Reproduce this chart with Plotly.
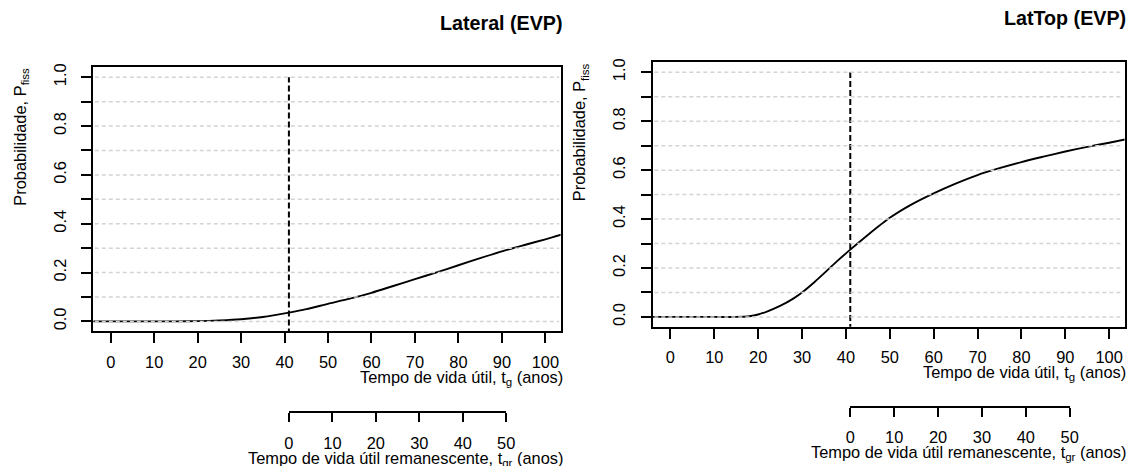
import plotly.graph_objects as go

# ---------------- data ----------------
tg_lateral = [-5, 0, 5, 10, 15, 20, 25, 30, 35, 41, 45, 50, 55, 60, 65, 70, 75, 80, 85, 90, 95, 100, 105]
p_lateral = [0, 0, 0, 0, 0, 0.001, 0.004, 0.009, 0.018, 0.036, 0.05, 0.072, 0.093, 0.117, 0.145,
             0.173, 0.201, 0.23, 0.259, 0.287, 0.312, 0.336, 0.362]

tg_lattop = [-5, 0, 5, 10, 15, 18, 20, 22, 25, 28, 30, 33, 35, 38, 41, 45, 50, 55, 60, 65, 70, 75,
             80, 85, 90, 95, 100, 105]
p_lattop = [0, 0, 0, 0, 0, 0.003, 0.01, 0.022, 0.045, 0.075, 0.1, 0.145, 0.178, 0.228, 0.275, 0.335,
            0.405, 0.46, 0.505, 0.545, 0.58, 0.608, 0.633, 0.655, 0.676, 0.695, 0.712, 0.73]

ref_year = 41                      # current age (dashed line, origin of remaining-life axis)
x_ticks = [0, 10, 20, 30, 40, 50, 60, 70, 80, 90, 100]
x2_ticks = [0, 10, 20, 30, 40, 50]
y_ticks = [0.0, 0.2, 0.4, 0.6, 0.8, 1.0]
y_minor = [0.1, 0.3, 0.5, 0.7, 0.9]
grid_vals = [0.0, 0.1, 0.2, 0.3, 0.4, 0.5, 0.6, 0.7, 0.8, 0.9, 1.0]

titles = ["Lateral (EVP)", "LatTop (EVP)"]
ylab = "Probabilidade, P<sub>fiss</sub>"
xlab = "Tempo de vida útil, t<sub>g</sub> (anos)"
x2lab = "Tempo de vida útil remanescente, t<sub>gr</sub> (anos)"

# ---------------- layout geometry ----------------
W, H = 1135, 466
FONT = "Liberation Sans, Arial, sans-serif"
FS = 16.4
XR = [-3.98, 103.5]
YR = [-0.04, 1.04]

panels = [
    dict(x0=89.5, x1=562.5, top=64, bot=330, sec=411.5, ylx=16, yly=134),
    dict(x0=656, x1=1133.5, top=59, bot=325.5, sec=406, ylx=582.5, yly=129),
]


def py(p):
    return 1 - p / H


def frac(t, dom, rng):
    return dom[0] + (t - rng[0]) / (rng[1] - rng[0]) * (dom[1] - dom[0])


fig = go.Figure()
series = [(tg_lateral, p_lateral), (tg_lattop, p_lattop)]
layout = dict(width=W, height=H, autosize=False, margin=dict(l=0, r=0, t=0, b=0),
              paper_bgcolor="white", plot_bgcolor="rgba(0,0,0,0)", showlegend=False,
              font=dict(family=FONT, size=FS, color="black"))
shapes = []
annotations = []

for i, (pn, (xs, ys)) in enumerate(zip(panels, series)):
    n = i + 1
    xa = "x" if n == 1 else f"x{n}"
    ya = "y" if n == 1 else f"y{n}"
    sa = f"x{n + 2}"
    xdom = [pn["x0"] / W, pn["x1"] / W]
    ydom = [py(pn["bot"]), py(pn["top"])]
    xr_ann = (pn["x1"] + 4) / W

    fig.add_trace(go.Scatter(x=xs, y=ys, xaxis=xa, yaxis=ya, mode="lines",
                             line=dict(color="black", width=1.9, shape="spline", smoothing=0.7),
                             hoverinfo="skip"))
    fig.add_trace(go.Scatter(x=[ref_year, ref_year], y=[YR[0] - 0.05, 1.0], xaxis=xa, yaxis=ya,
                             mode="lines", line=dict(color="black", width=2, dash="6px,3px"),
                             hoverinfo="skip"))
    # dummy trace to register the remaining-life axis
    fig.add_trace(go.Scatter(x=[x2_ticks[0], x2_ticks[-1]], y=[None, None], xaxis=sa, yaxis=ya,
                             mode="lines", hoverinfo="skip"))

    axline = dict(showline=True, linecolor="black", linewidth=2, mirror=True, zeroline=False,
                  showgrid=False, ticks="outside", ticklen=10, tickwidth=2, tickcolor="black",
                  tickfont=dict(family=FONT, size=FS, color="black"))
    layout["xaxis" if n == 1 else f"xaxis{n}"] = dict(
        axline, domain=xdom, range=XR, anchor=ya, tickmode="array", tickvals=x_ticks,
        ticklabelstandoff=5)
    layout["yaxis" if n == 1 else f"yaxis{n}"] = dict(
        axline, domain=ydom, range=YR, anchor=xa, tickmode="array", tickvals=y_ticks,
        ticktext=[f"{v:.1f}" for v in y_ticks], tickangle=-90, ticklabelstandoff=9,
        minor=dict(tickmode="array", tickvals=y_minor, ticks="outside", ticklen=10,
                   tickwidth=2, tickcolor="black", showgrid=False))
    sdom = [frac(ref_year + x2_ticks[0], xdom, XR), frac(ref_year + x2_ticks[-1], xdom, XR)]
    layout[f"xaxis{n + 2}"] = dict(
        domain=sdom, range=[x2_ticks[0], x2_ticks[-1]], anchor="free", position=py(pn["sec"]),
        showline=True, linecolor="black", linewidth=2, zeroline=False, showgrid=False,
        ticks="outside", ticklen=9, tickwidth=2, tickcolor="black", tickmode="array",
        tickvals=x2_ticks, ticklabelstandoff=7,
        tickfont=dict(family=FONT, size=FS, color="black"))

    for v in grid_vals:
        shapes.append(dict(type="line", xref=f"{xa} domain", x0=0.003, x1=0.997, yref=ya, y0=v, y1=v,
                           layer="above", line=dict(color="#d4d4d4", width=1.5, dash="4px,3px")))

    annotations.append(dict(text=f"<b>{titles[i]}</b>", xref="paper", yref="paper",
                            x=xr_ann, y=py(pn["top"] - 45), xanchor="right", yanchor="middle",
                            showarrow=False, font=dict(family=FONT, size=19.7, color="black")))
    annotations.append(dict(text=xlab, xref="paper", yref="paper", x=xr_ann,
                            y=py(pn["bot"] + 47), xanchor="right", yanchor="middle",
                            showarrow=False, font=dict(family=FONT, size=FS, color="black")))
    annotations.append(dict(text=x2lab, xref="paper", yref="paper", x=xr_ann,
                            y=py(pn["sec"] + 47), xanchor="right", yanchor="middle",
                            showarrow=False, font=dict(family=FONT, size=FS, color="black")))
    annotations.append(dict(text=ylab, xref="paper", yref="paper", x=pn["ylx"] / W,
                            y=py(pn["yly"]), xanchor="center", yanchor="middle", textangle=-90,
                            showarrow=False, font=dict(family=FONT, size=FS, color="black")))

layout["shapes"] = shapes
layout["annotations"] = annotations
fig.update_layout(**layout)
fig.write_html("out.html")
